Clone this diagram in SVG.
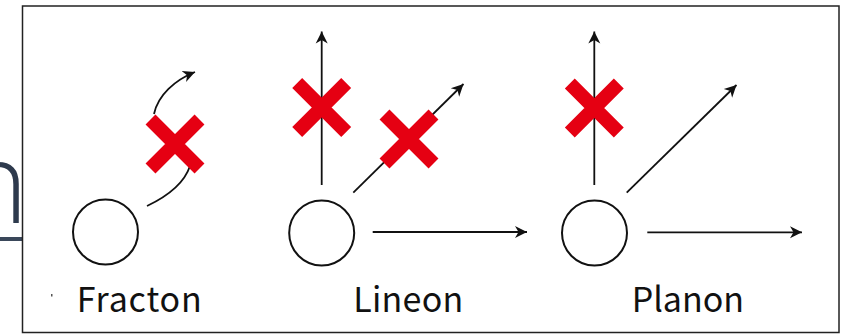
<svg xmlns="http://www.w3.org/2000/svg" width="844" height="335" viewBox="0 0 844 335">
  <style>
    .bg-text { font-family: "Open Sans", "Noto Sans", sans-serif; font-weight: 300; font-size: 112px; fill: #2e3a4d; }
    .frame { fill: #ffffff; stroke: #222222; stroke-width: 1.5; }
    .node { fill: #ffffff; stroke: #111111; stroke-width: 2; }
    .label { font-family: "Noto Sans CJK JP", "Noto Sans", "Liberation Sans", sans-serif; font-size: 34px; fill: #111111; }
    .conn { fill: none; stroke: #111111; stroke-width: 1.8; }
    .arrow { marker-end: url(#head); }
    .cross { stroke: #e50012; stroke-width: 14; stroke-linecap: butt; fill: none; }
  </style>
  <defs>
    <marker id="head" markerUnits="userSpaceOnUse" markerWidth="14" markerHeight="14" refX="12" refY="7" orient="auto" viewBox="0 0 14 14">
      <path d="M0,1 L12,7 L0,13 L3.5,7 z" fill="#111111"/>
    </marker>
  </defs>

  <rect width="844" height="335" fill="#ffffff"/>

  <!-- background slide text, mostly hidden by the frame -->
  <g id="background">
    <text class="bg-text" x="-38" y="223">n</text>
    <rect x="0" y="237" width="22" height="4" fill="#3a475a"/>
  </g>

  <g id="frame">
    <rect class="frame" x="22.5" y="6" width="816.5" height="326.5"/>
    <rect x="51" y="294" width="1.5" height="2.5" fill="#555555"/>
  </g>

  <g id="connectors">
    <!-- Fracton curved arrow -->
    <path class="conn arrow" d="M147,206 C168,196 184,184 190,166 M154,114 C158,95 175,80 195,72"/>
    <!-- Lineon -->
    <line class="conn arrow" x1="321.7" y1="185" x2="321.7" y2="31.5"/>
    <line class="conn arrow" x1="353.3" y1="192.7" x2="463.5" y2="84"/>
    <line class="conn arrow" x1="372.7" y1="232" x2="527" y2="232"/>
    <!-- Planon -->
    <line class="conn arrow" x1="594.3" y1="185" x2="594.3" y2="31.5"/>
    <line class="conn arrow" x1="626.7" y1="192.7" x2="736.5" y2="85"/>
    <line class="conn arrow" x1="647.3" y1="232.3" x2="802" y2="232.3"/>
  </g>

  <g id="node-fracton">
    <circle class="node" cx="105.5" cy="232" r="32.5"/>
    <text class="label" x="76.7" y="311.7" textLength="125" lengthAdjust="spacing">Fracton</text>
  </g>
  <g id="node-lineon">
    <circle class="node" cx="321.7" cy="233" r="32.5"/>
    <text class="label" x="353.3" y="311.7" textLength="110" lengthAdjust="spacing">Lineon</text>
  </g>
  <g id="node-planon">
    <circle class="node" cx="594.5" cy="233" r="32.5"/>
    <text class="label" x="631.7" y="311.7" textLength="112.3" lengthAdjust="spacing">Planon</text>
  </g>

  <g id="forbidden-marks">
    <g id="cross-fracton" transform="translate(175,144)">
      <path class="cross" d="M-24.5,-24.5 L24.5,24.5 M24.5,-24.5 L-24.5,24.5"/>
    </g>
    <g id="cross-lineon-vertical" transform="translate(321.7,107.5)">
      <path class="cross" d="M-24.5,-24.5 L24.5,24.5 M24.5,-24.5 L-24.5,24.5"/>
    </g>
    <g id="cross-lineon-diagonal" transform="translate(409,139)">
      <path class="cross" d="M-24.5,-24.5 L24.5,24.5 M24.5,-24.5 L-24.5,24.5"/>
    </g>
    <g id="cross-planon-vertical" transform="translate(594.3,108)">
      <path class="cross" d="M-24.5,-24.5 L24.5,24.5 M24.5,-24.5 L-24.5,24.5"/>
    </g>
  </g>
</svg>
